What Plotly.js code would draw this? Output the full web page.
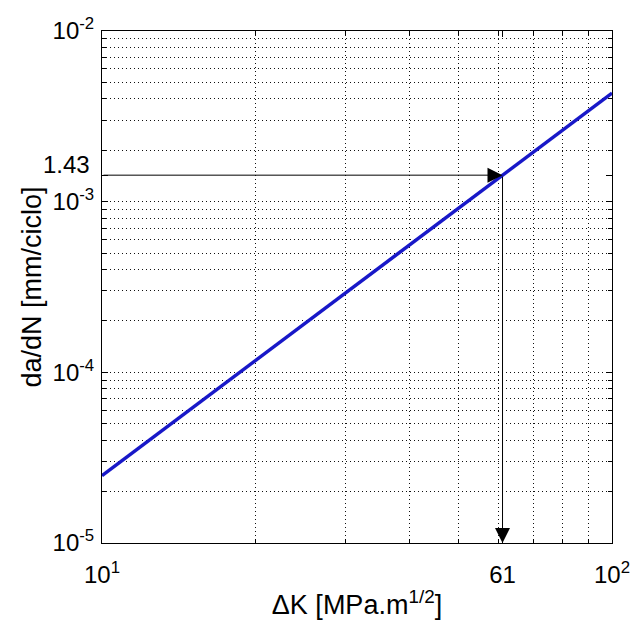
<!DOCTYPE html>
<html>
<head>
<meta charset="utf-8">
<script src="https://cdn.plot.ly/plotly-3.0.1.min.js"></script>
<style>html,body{margin:0;padding:0;background:#fff;}#chart{width:632px;height:633px;}</style>
</head>
<body>
<div id="chart"></div>
<script>
// Data
const deltaK = [10, 61, 100];
const dadN = [2.48e-5, 1.43e-3, 4.33e-3];
const markK = 61;
const markRate = 1.43e-3;
const markRateLabel = '1.43';

const xTickVals = [10, 61, 100];
const xTickText = ['10<sup>1</sup>', '61', '10<sup>2</sup>'];
const yTickVals = [1e-5, 1e-4, 1e-3, 1.43e-3, 1e-2];
const yTickText = ['10<sup>-5</sup>', '10<sup>-4</sup>', '10<sup>-3</sup>', '', '10<sup>-2</sup>'];

const xMinor = [];
for (let k = 2; k <= 9; k++) xMinor.push(k * 10);
const yMinor = [];
for (let e = -5; e <= -3; e++) for (let k = 1; k <= 9; k++) { if (!(k === 1 && e === -5)) yMinor.push(k * Math.pow(10, e)); }

const fam = 'Liberation Sans, Arial, sans-serif';
const tickFont = {family: fam, color: '#000', size: 24};
const titleFont = {family: fam, color: '#000', size: 27};

const trace = {
  x: deltaK, y: dadN, mode: 'lines', type: 'scatter',
  line: {color: '#1818c8', width: 3.5}, hoverinfo: 'skip'
};

const gridStyle = {showgrid: true, gridcolor: '#111', griddash: '1px,3px', gridwidth: 1};

const layout = {
  width: 632, height: 633,
  margin: {l: 102, r: 20, t: 31, b: 90},
  paper_bgcolor: '#fff', plot_bgcolor: '#fff',
  showlegend: false,
  font: tickFont,
  xaxis: {
    type: 'log', range: [1, 2],
    tickvals: xTickVals, ticktext: xTickText,
    ticks: 'inside', ticklen: 6, tickcolor: '#000',
    ticklabelstandoff: 10,
    showgrid: false, zeroline: false,
    showline: true, linecolor: '#000', linewidth: 1, mirror: 'ticks',
    tickfont: tickFont,
    minor: Object.assign({tickvals: xMinor, ticks: 'inside', ticklen: 4, tickcolor: '#000'}, gridStyle),
    title: {text: '\u0394K [MPa.m<sup>1/2</sup>]', font: titleFont, standoff: 8}
  },
  yaxis: {
    type: 'log', range: [-5, -2],
    tickvals: yTickVals, ticktext: yTickText,
    ticks: 'inside', ticklen: 6, tickcolor: '#000',
    ticklabelstandoff: 2,
    showgrid: false, zeroline: false,
    showline: true, linecolor: '#000', linewidth: 1, mirror: 'ticks',
    tickfont: tickFont,
    minor: Object.assign({tickvals: yMinor, ticks: 'inside', ticklen: 4, tickcolor: '#000'}, gridStyle),
    title: {text: 'da/dN [mm/ciclo]', font: titleFont, standoff: 3}
  },
  annotations: [
    {x: Math.log10(markK), y: Math.log10(markRate), ax: 1, ay: Math.log10(markRate),
     xref: 'x', yref: 'y', axref: 'x', ayref: 'y', text: '', showarrow: true,
     arrowhead: 2, arrowsize: 3, arrowwidth: 1, arrowcolor: '#000'},
    {x: Math.log10(markK), y: -5, ax: Math.log10(markK), ay: Math.log10(markRate),
     xref: 'x', yref: 'y', axref: 'x', ayref: 'y', text: '', showarrow: true,
     arrowhead: 2, arrowsize: 3, arrowwidth: 1, arrowcolor: '#000'},
    {x: 0, xref: 'paper', y: Math.log10(markRate), yref: 'y', text: markRateLabel,
     showarrow: false, xanchor: 'right', yanchor: 'middle', xshift: -10, yshift: 11,
     font: tickFont}
  ]
};

Plotly.newPlot('chart', [trace], layout, {staticPlot: true, displayModeBar: false});
</script>
</body>
</html>
